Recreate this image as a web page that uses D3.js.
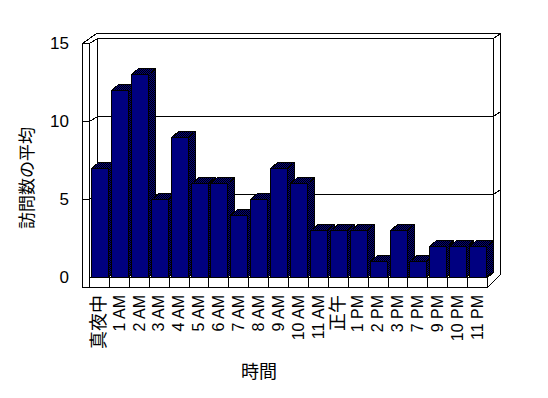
<!DOCTYPE html>
<html lang="ja">
<head>
<meta charset="UTF-8">
<title>訪問数の平均</title>
<style>
    body { margin: 0; padding: 0; background: #fff; }
    svg { display: block; }
    text { font-family: "Liberation Sans", Arial, sans-serif; fill: #000; }
    .jp { font-family: "Noto Sans CJK JP", sans-serif; }
</style>
</head>
<body>
<svg id="chart" width="548" height="398"></svg>
<script src="https://d3js.org/d3.v7.min.js"></script>
<script>
// データ
var categories = ["真夜中", "1 AM", "2 AM", "3 AM", "4 AM", "5 AM", "6 AM", "7 AM", "8 AM", "9 AM",
                  "10 AM", "11 AM", "正午", "1 PM", "2 PM", "3 PM", "7 PM", "9 PM", "10 PM", "11 PM"];
var visits = [7, 12, 13, 5, 9, 6, 6, 4, 5, 7, 6, 3, 3, 3, 1, 3, 1, 2, 2, 2];
var yTicks = [0, 5, 10, 15];

const svg = d3.select("#chart");

// 比例尺（前面）
const x = d3.scaleBand().domain(categories).range([89, 487]).padding(0);
const y = d3.scaleLinear().domain([0, 15]).range([277, 43]);
// 奥の壁は少し右上にずれる
const wdx = 8, wdy = -5;
const bdx = 7, bdy = -6;   // 棒の奥行き

// 網点パターン
const defs = svg.append("defs");
const pat = defs.append("pattern").attr("id", "dither")
    .attr("width", 2).attr("height", 2).attr("patternUnits", "userSpaceOnUse");
pat.append("rect").attr("width", 2).attr("height", 2).attr("fill", "#000080");
pat.append("rect").attr("width", 1).attr("height", 1).attr("fill", "#000");
pat.append("rect").attr("x", 1).attr("y", 1).attr("width", 1).attr("height", 1).attr("fill", "#000");

const frame = svg.append("g").attr("fill", "none").attr("stroke", "#000")
    .attr("stroke-width", 1).attr("shape-rendering", "crispEdges");
function seg(pts) {
    frame.append("path").attr("d", d3.line()(pts.map(p => [p[0] + 0.5, p[1] + 0.5])));
}

const x0 = 82, xIn = 89, xEnd = 487;
const yTop = y(15), yBase = y(0);

// 外枠（壁）
seg([[x0, yTop], [x0 + 14, yTop - 10], [500, yTop - 10], [500, yBase - 3]]);
seg([[xIn, yTop], [xIn + wdx, yTop + wdy], [493 , yTop + wdy], [500, yTop - 10]]);
seg([[x0, yTop], [xIn, yTop]]);
seg([[x0, yTop], [x0, yBase + 10], [xEnd, yBase + 10], [500, yBase - 3]]);
seg([[xIn, yTop], [xIn, yBase]]);
seg([[xIn + wdx, yTop + wdy], [xIn + wdx, yBase + wdy]]);
seg([[493, yTop + wdy], [493, yBase + wdy], [xEnd, yBase]]);
seg([[xEnd, yBase], [xEnd, yBase + 10]]);

// 目盛線
yTicks.filter(v => v > 0 && v < 15).forEach(function(v) {
    const yy = Math.round(y(v));
    seg([[x0, yy], [xIn, yy], [xIn + wdx, yy + wdy], [493, yy + wdy], [500, yy + wdy - 5]]);
});

// 棒
const bars = svg.append("g").attr("stroke", "#000").attr("stroke-width", 1)
    .attr("shape-rendering", "crispEdges");
categories.forEach(function(c, i) {
    const bx = Math.round(x(c)) + 2.5;
    const bw = 17;
    const by = Math.round(y(visits[i])) + 0.5;
    const b0 = yBase + 0.5;
    const g = bars.append("g");
    g.append("polygon").attr("fill", "url(#dither)")
        .attr("points", [[bx + bw, by], [bx + bw + bdx, by + bdy], [bx + bw + bdx, b0 + bdy], [bx + bw, b0]].join(" "));
    g.append("polygon").attr("fill", "url(#dither)")
        .attr("points", [[bx, by], [bx + bdx, by + bdy], [bx + bw + bdx, by + bdy], [bx + bw, by]].join(" "));
    g.append("rect").attr("x", bx).attr("y", by).attr("width", bw).attr("height", b0 - by)
        .attr("fill", "#000080");
});

// 床の目盛
categories.forEach(function(c) {
    const xx = Math.round(x(c));
    seg([[xx, yBase], [xx, yBase + 10]]);
});
seg([[xIn, yBase], [xEnd, yBase]]);

// 軸ラベル
svg.append("g").selectAll("text").data(yTicks).join("text")
    .attr("x", 69).attr("y", d => y(d)).attr("dy", "0.36em")
    .attr("text-anchor", "end").attr("font-size", 17).text(d => d);

svg.append("g").selectAll("text").data(categories).join("text")
    .attr("class", d => /[A-Z]/.test(d) ? "" : "jp")
    .attr("transform", d => "translate(" + (x(d) + x.bandwidth() / 2) + ",295) rotate(-90)")
    .attr("text-anchor", "end").attr("dy", "0.36em")
    .attr("font-size", d => /[A-Z]/.test(d) ? 16 : 18)
    .text(d => d);

svg.append("text").attr("class", "jp")
    .attr("transform", "translate(27,178) rotate(-90)")
    .attr("text-anchor", "middle").attr("dy", "0.36em").attr("font-size", 17)
    .text("訪問数の平均");

svg.append("text").attr("class", "jp")
    .attr("x", 259).attr("y", 372).attr("dy", "0.36em")
    .attr("text-anchor", "middle").attr("font-size", 18)
    .text("時間");
</script>
</body>
</html>
